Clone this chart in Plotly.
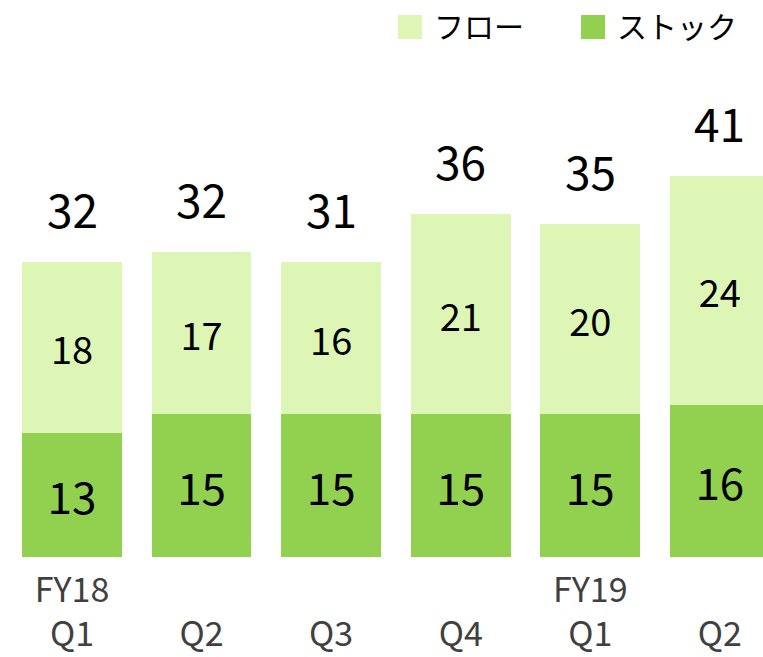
import plotly.graph_objects as go

categories = ["FY18 Q1", "Q2", "Q3", "Q4", "FY19 Q1", "Q2"]
tick_labels = ["FY18<br>Q1", " <br>Q2", " <br>Q3", " <br>Q4", "FY19<br>Q1", " <br>Q2"]
stock = [13, 15, 15, 15, 15, 16]
flow = [18, 17, 16, 21, 20, 24]
totals = [32, 32, 31, 36, 35, 41]
series_names = ["フロー", "ストック"]

STOCK_C = "#92D050"
FLOW_C = "#DDF5B5"
FONT = "Noto Sans CJK JP"

W, H = 763, 657
MT, MB = 100, 100
plot_h = H - MT - MB
x = list(range(len(categories)))

fig = go.Figure()
fig.add_trace(go.Bar(
    x=x, y=stock, name=series_names[1], marker=dict(color=STOCK_C, line=dict(width=0)),
    text=[str(v) for v in stock], textposition="inside", insidetextanchor="middle",
    textfont=dict(size=44, color="#000000", family=FONT), width=0.77,
    textangle=0,
))
fig.add_trace(go.Bar(
    x=x, y=flow, name=series_names[0], marker=dict(color=FLOW_C, line=dict(width=0)),
    text=[str(v) for v in flow], textposition="inside", insidetextanchor="middle",
    textfont=dict(size=38, color="#000000", family=FONT), width=0.77,
    textangle=0,
))

for i, t in enumerate(totals):
    fig.add_annotation(
        x=x[i], y=stock[i] + flow[i], text=str(t), showarrow=False,
        xref="x", yref="y", yanchor="middle", yshift=54,
        font=dict(size=46, color="#000000", family=FONT),
    )

# custom legend
def px_x(p):
    return p / W

def px_y(p):
    return (H - MB - p) / plot_h

legend_items = [(series_names[0], FLOW_C, 398, 422), (series_names[1], STOCK_C, 581, 605)]
for name, col, x0, x1 in legend_items:
    fig.add_shape(type="rect", xref="paper", yref="paper",
                  x0=px_x(x0), x1=px_x(x1), y0=px_y(39), y1=px_y(15),
                  fillcolor=col, line=dict(width=0))
    fig.add_annotation(xref="paper", yref="paper", x=px_x(x1 + 10), y=px_y(25),
                       xanchor="left", yanchor="middle", text=name, showarrow=False,
                       font=dict(size=30, color="#000000", family=FONT))

fig.update_layout(
    barmode="stack",
    width=W, height=H,
    margin=dict(l=0, r=0, t=MT, b=MB, pad=0),
    paper_bgcolor="white", plot_bgcolor="white",
    showlegend=False,
    xaxis=dict(tickmode="array", tickvals=x, ticktext=tick_labels,
               range=[-0.556, 5.333], showgrid=False, zeroline=False, showline=False,
               ticks="", ticklabelstandoff=10,
               tickfont=dict(size=34, color="#404040", family=FONT)),
    yaxis=dict(range=[0, plot_h / 9.52], visible=False, showgrid=False, zeroline=False),
    uniformtext=dict(mode=False),
)

fig.write_html("out.html", config={"displayModeBar": False},
               post_script="document.body.style.margin='0';document.body.style.overflow='hidden';")
